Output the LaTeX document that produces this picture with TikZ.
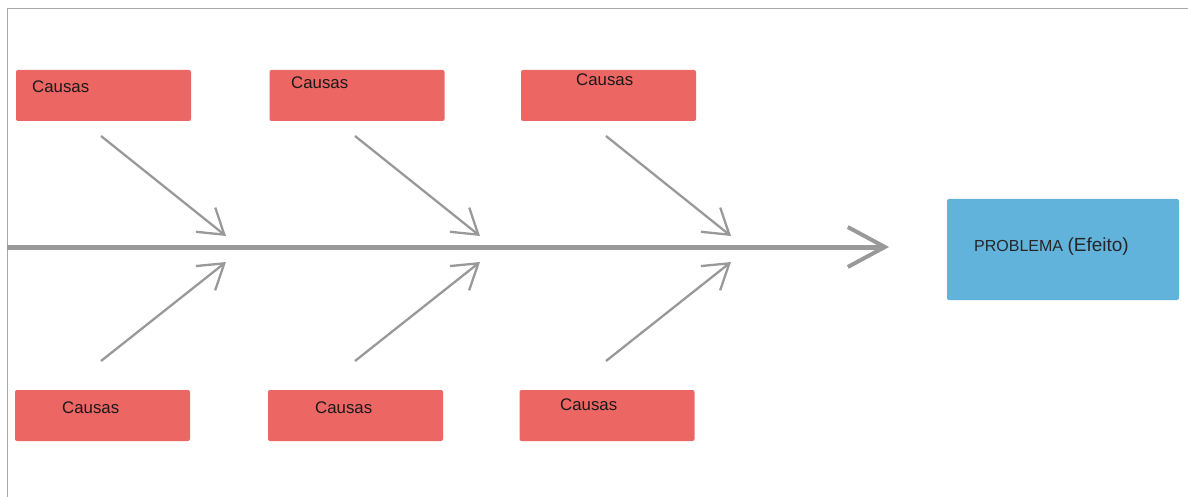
\documentclass[tikz,border=0pt]{standalone}
\usepackage{fontspec}
\setmainfont{Liberation Sans}
\usetikzlibrary{arrows.meta}
\definecolor{causered}{HTML}{EC6664}
\definecolor{probblue}{HTML}{62B3DC}
\definecolor{linegray}{HTML}{999999}
\definecolor{framegray}{HTML}{A8A8A8}
\begin{document}
\begin{tikzpicture}[x=1pt,y=-1pt,
  causebox/.style={draw=none,fill=causered,rounded corners=2pt,minimum width=175pt,minimum height=51pt,inner sep=0pt},
  probbox/.style={draw=none,fill=probblue,rounded corners=2pt,minimum width=232pt,minimum height=101pt,inner sep=0pt},
  causetxt/.style={anchor=base west,inner sep=0pt,font=\fontsize{16.8}{19}\selectfont,text=black!90},
  bone/.style={draw=linegray,line width=2.3pt,-{Straight Barb[length=24pt,width=31pt,line width=2.3pt]}},
  spine/.style={draw=linegray,line width=5pt,-{Straight Barb[length=37pt,width=40pt,line width=4pt]}}]
\useasboundingbox (0,0) rectangle (1188,497);
% frame
\draw[framegray,line width=1.5pt] (7.5,497) -- (7.5,8.5) -- (1188,8.5);
% cause boxes
\node[causebox] (c1) at (103.5,95.5) {};
\node[causebox] (c2) at (357,95.5) {};
\node[causebox] (c3) at (608.5,95.5) {};
\node[causebox] (c4) at (102.5,415.5) {};
\node[causebox] (c5) at (355.5,415.5) {};
\node[causebox] (c6) at (607,415.5) {};
\node[causetxt] (t1) at (32,93) {Causas};
\node[causetxt] (t2) at (291,89) {Causas};
\node[causetxt] (t3) at (576,86) {Causas};
\node[causetxt] (t4) at (62,413) {Causas};
\node[causetxt] (t5) at (315,413) {Causas};
\node[causetxt] (t6) at (560,410) {Causas};
% problem box
\node[probbox] (p) at (1063,249.5) {};
\node[anchor=base west,inner sep=0pt,text=black!85] (pt) at (974,251) {\fontsize{16}{19}\selectfont PROBLEMA \fontsize{19}{22}\selectfont(Efeito)};
% spine
\coordinate (s0) at (7,247);
\coordinate (s1) at (889,247);
\draw[spine] (s0) -- (s1);
% bones
\coordinate (a1) at (101,136); \coordinate (b1) at (226,236);
\coordinate (a2) at (355,136); \coordinate (b2) at (480,236);
\coordinate (a3) at (606,136); \coordinate (b3) at (731,236);
\coordinate (a4) at (101,361); \coordinate (b4) at (226,262);
\coordinate (a5) at (355,361); \coordinate (b5) at (480,262);
\coordinate (a6) at (606,361); \coordinate (b6) at (731,262);
\foreach \i in {1,...,6} {\draw[bone] (a\i) -- (b\i);}
\end{tikzpicture}
\end{document}
